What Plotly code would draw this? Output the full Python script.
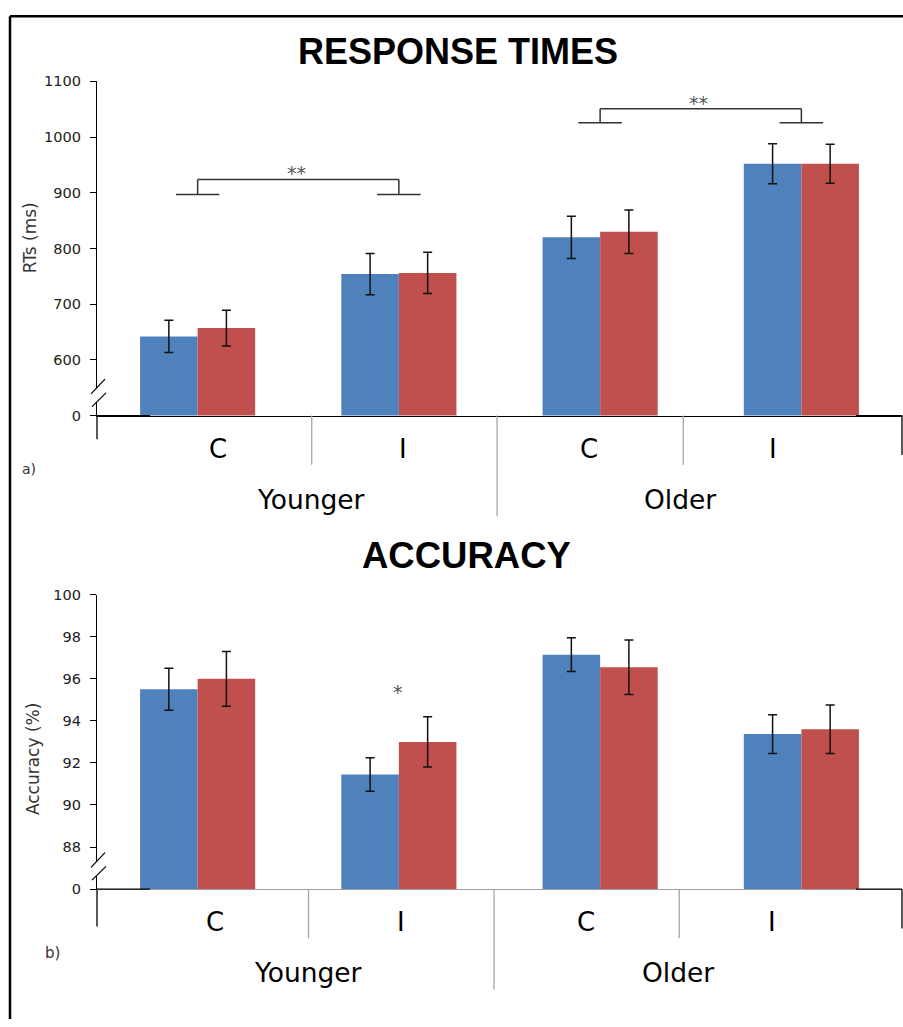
import plotly.graph_objects as go

# ---- data ----
conditions = ["C", "I", "C", "I"]
groups = ["Younger", "Older"]

rt_blue = [642, 754, 820, 952]
rt_blue_err = [29, 37, 38, 36]
rt_red = [657, 756, 830, 952]
rt_red_err = [32, 37, 39, 35]

acc_blue = [95.5, 91.45, 97.15, 93.37]
acc_blue_err = [1.0, 0.8, 0.8, 0.92]
acc_red = [96.0, 93.0, 96.55, 93.6]
acc_red_err = [1.3, 1.2, 1.3, 1.15]

rt_ticks = [500, 600, 700, 800, 900, 1000, 1100]
rt_ticktext = ["0", "600", "700", "800", "900", "1000", "1100"]
acc_ticks = [86, 88, 90, 92, 94, 96, 98, 100]
acc_ticktext = ["0", "88", "90", "92", "94", "96", "98", "100"]

BLUE = "#4F81BD"
RED = "#C0504D"
W, H = 903, 1027


def px(x):
    return x / W


def py(y):
    return 1 - y / H


xs = list(range(len(conditions)))

fig = go.Figure()


def add_pair(blue, blue_err, red, red_err, xa, ya):
    for vals, errs, col in ((blue, blue_err, BLUE), (red, red_err, RED)):
        fig.add_trace(go.Bar(
            x=xs, y=vals, marker=dict(color=col, line=dict(width=0)),
            error_y=dict(type="data", array=errs, visible=True,
                         color="#111", thickness=1.5, width=4.5),
            xaxis=xa, yaxis=ya, showlegend=False))


add_pair(rt_blue, rt_blue_err, rt_red, rt_red_err, "x", "y")
add_pair(acc_blue, acc_blue_err, acc_red, acc_red_err, "x2", "y2")

tickfont = dict(family="DejaVu Sans", size=14.5, color="#222")
xcommon = dict(range=[-0.5, 3.5], showticklabels=False, showgrid=False,
               zeroline=False, ticks="", showline=True)
ycommon = dict(showgrid=False, zeroline=False, ticks="outside", ticklen=6,
               tickcolor="#000", tickwidth=1.2, showline=True, linecolor="#000",
               linewidth=1.3, tickfont=tickfont, ticklabelstandoff=6)

fig.update_layout(
    width=W, height=H, margin=dict(l=0, r=0, t=0, b=0),
    paper_bgcolor="white", plot_bgcolor="white",
    barmode="group", bargap=0.428, bargroupgap=0,
    xaxis=dict(domain=[px(97), px(902)], anchor="y", linecolor="#000",
               linewidth=1.3, **xcommon),
    yaxis=dict(domain=[py(414), py(74.5)], range=[500, 1100], anchor="x",
               tickvals=rt_ticks, ticktext=rt_ticktext, **ycommon),
    xaxis2=dict(domain=[px(97), px(902)], anchor="y2", linecolor="#a0a0a0",
                linewidth=1.2, **xcommon),
    yaxis2=dict(domain=[py(895), py(596)], range=[86, 100], anchor="x2",
                tickvals=acc_ticks, ticktext=acc_ticktext, **ycommon),
)

shapes = []


def pline(x0, y0, x1, y1, color="#000", width=1.3):
    shapes.append(dict(type="line", xref="paper", yref="paper",
                       x0=px(x0), y0=py(y0), x1=px(x1), y1=py(y1),
                       line=dict(color=color, width=width), layer="above"))


# outer frame
pline(10, 8.5, 903, 8.5, width=2.5)
pline(10, 8.5, 10, 1027, width=2.5)

# axis extensions, end ticks and axis-break marks
for y_base, y_ext, right_drop, brk in ((414, 438, 454, 392), (895, 933, 935, 873)):
    pline(97, y_base, 97, y_ext)
    pline(97, y_base, 150, y_base)
    pline(856, y_base, 902, y_base)
    pline(902, y_base, 902, right_drop)
    path = "M {} {} L {} {} L {} {} L {} {} Z".format(
        px(91), py(brk), px(105), py(brk - 15), px(106), py(brk - 1), px(92), py(brk + 13))
    shapes.append(dict(type="path", xref="paper", yref="paper", path=path,
                       fillcolor="white", line=dict(width=0), layer="above"))
    pline(91, brk, 105, brk - 15, width=1.2)
    pline(92, brk + 13, 106, brk - 1, width=1.2)

# category dividers (data x, pixel y)
for xref, y_base, dividers in (("x", 414, [(0.567, 464), (1.488, 516), (2.413, 464)]),
                               ("x2", 895, [(0.551, 945), (1.473, 997), (2.393, 945)])):
    for xv, ybot in dividers:
        shapes.append(dict(type="line", xref=xref, yref="paper",
                           x0=xv, x1=xv, y0=py(y_base), y1=py(ybot),
                           line=dict(color="#a6a6a6", width=1.3), layer="above"))

# significance brackets on response times
for left, right, top, foot in ((0, 1, 924, 897), (2, 3, 1051, 1025.5)):
    c = "#333"
    for x0, x1, y0, y1 in ((left, right, top, top), (left, left, top, foot),
                           (right, right, top, foot),
                           (left - 0.108, left + 0.108, foot, foot),
                           (right - 0.108, right + 0.108, foot, foot)):
        shapes.append(dict(type="line", xref="x", yref="y", x0=x0, x1=x1,
                           y0=y0, y1=y1, line=dict(color=c, width=1.5)))

fig.update_layout(shapes=shapes)

ann = []


def text(x, y, s, size, family="DejaVu Sans", color="#000", bold=False, angle=0):
    ann.append(dict(xref="paper", yref="paper", x=px(x), y=py(y),
                    text="<b>" + s + "</b>" if bold else s, showarrow=False,
                    xanchor="center", yanchor="middle", textangle=angle,
                    font=dict(family=family, size=size, color=color)))


text(458, 44, "RESPONSE TIMES", 36, family="Liberation Sans", bold=True)
text(466, 556, "ACCURACY", 36.5, family="Liberation Sans", bold=True)
text(30, 234, "RTs (ms)", 17, color="#333", angle=-90)
text(33, 763, "Accuracy (%)", 17, color="#333", angle=-90)
text(29, 468, "a)", 14, color="#333")
text(52, 960, "b)", 15, color="#333")

# condition labels
for xs_pix, ypix in (([218, 403, 589, 773], 448), ([215, 401, 586, 772], 928)):
    for xv, lab in zip(xs_pix, conditions):
        text(xv, ypix, lab, 26)
# group labels
for (xy, xo), ypix in (((311, 680), 499), ((308, 678), 980)):
    text(xy, ypix, groups[0], 26.5)
    text(xo, ypix, groups[1], 26.5)

# significance stars
text(296, 168, "**", 19, color="#555")
text(698, 96, "**", 19, color="#555")
text(398, 695, "*", 19, color="#555")

fig.update_layout(annotations=ann)

fig.write_html("out.html")
